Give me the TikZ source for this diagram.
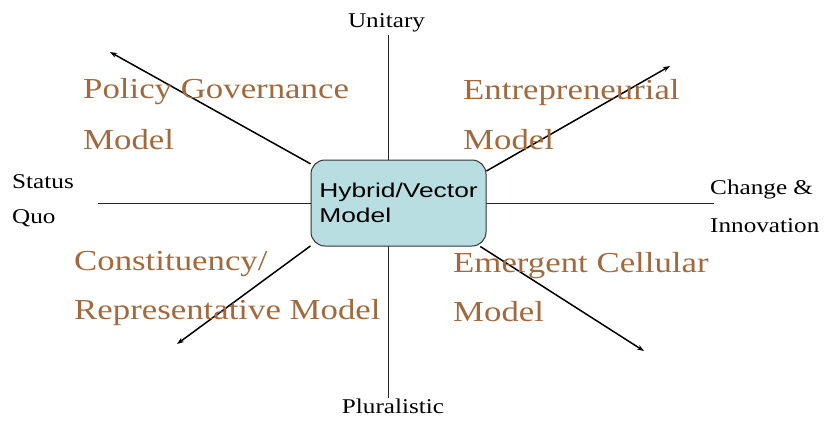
\documentclass[tikz,border=0pt]{standalone}
\usepackage{fontspec}
\setmainfont{Liberation Serif}
\newfontfamily\lblfont[FakeStretch=1.2]{Liberation Serif}
\newfontfamily\boxfont[FakeStretch=1.32]{Liberation Sans}
\usetikzlibrary{arrows.meta}
\definecolor{labelbrown}{RGB}{161,106,62}
\definecolor{boxblue}{RGB}{185,222,226}
\tikzset{
  bigl/.style={anchor=base west, inner sep=0pt, text=labelbrown, font=\lblfont\fontsize{29}{29}\selectfont},
  axisl/.style={inner sep=0pt, font=\lblfont\fontsize{21}{21}\selectfont},
  axisline/.style={line width=1pt, black!85},
  arr/.style={line width=1.5pt, -{Stealth[length=7pt,width=5pt]}},
  hybrid/.style={draw=black!80, line width=1pt, fill=boxblue, rounded corners=14pt,
    minimum width=175pt, minimum height=86pt, inner sep=0pt, align=left,
    font=\boxfont\fontsize{20}{25.5}\selectfont}
}
\begin{document}
\begin{tikzpicture}[x=1pt,y=-1pt]
\useasboundingbox (0,0) rectangle (825,421);
% axes
\coordinate (top) at (388,35);
\coordinate (bot) at (388,398);
\coordinate (lft) at (98,203.5);
\coordinate (rgt) at (714,203.5);
\draw[axisline] (top) -- (bot);
\draw[axisline] (lft) -- (rgt);
% centre box
\node[hybrid] (box) at (398.5,203) {Hybrid/Vector\\Model};
% arrow tips
\coordinate (tUL) at (110,52);
\coordinate (tUR) at (670,66);
\coordinate (tLL) at (177,344);
\coordinate (tLR) at (644,351);
\draw[arr] (box.156.5) -- (tUL);
\draw[arr] (box.20) -- (tUR);
\draw[arr] (box.206.4) -- (tLL);
\draw[arr] (box.332.7) -- (tLR);
% axis labels
\node[axisl, anchor=base] (unit) at (386.5,27) {Unitary};
\node[axisl, anchor=base] (plur) at (393,413) {Pluralistic};
\node[axisl, anchor=base west] (stat1) at (12,188) {Status};
\node[axisl, anchor=base west] (stat2) at (12,223) {Quo};
\node[axisl, anchor=base west] (chg1) at (710,194) {Change \&};
\node[axisl, anchor=base west] (chg2) at (710,232) {Innovation};
% model labels
\node[bigl] (pg1) at (83,98) {Policy Governance};
\node[bigl] (pg2) at (83,149) {Model};
\node[bigl] (en1) at (463,99) {Entrepreneurial};
\node[bigl] (en2) at (463,149) {Model};
\node[bigl] (co1) at (74,270) {Constituency/};
\node[bigl] (co2) at (74,319) {Representative Model};
\node[bigl] (em1) at (453,272) {Emergent Cellular};
\node[bigl] (em2) at (453,321) {Model};
\end{tikzpicture}
\end{document}
